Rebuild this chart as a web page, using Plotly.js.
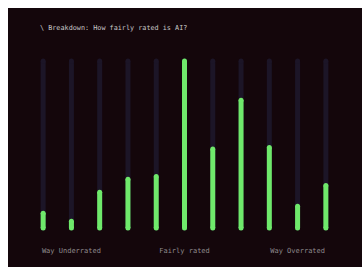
<!DOCTYPE html>
<html>
<head>
<meta charset="utf-8">
<script src="https://cdn.plot.ly/plotly-3.0.1.min.js"></script>
<style>
html,body{margin:0;padding:0;background:#fff;overflow:hidden;}
#chart{position:absolute;left:8px;top:8px;width:362px;height:267px;}
</style>
</head>
<body>
<div id="chart"></div>
<script>
// Share of respondents (%) per rating step, from "Way Underrated" to "Way Overrated"
const steps = [1,2,3,4,5,6,7,8,9,10,11];
const shares = [2.2, 1.0, 5.3, 7.2, 7.6, 24.7, 11.7, 18.9, 11.9, 3.2, 6.3];
const tickSteps = [2, 6, 10];
const tickLabels = ["Way Underrated", "Fairly rated", "Way Overrated"];
const titleText = "\\ Breakdown: How fairly rated is AI?";

const maxShare = Math.max(...shares);
const trackColor = "#1c1527";
const barColor = "#6fe96b";
const lw = 5;

function stems(vals, color) {
  const x = [], y = [];
  steps.forEach((s, i) => { x.push(s, s, null); y.push(0, vals[i], null); });
  return {
    type: "scatter", mode: "lines+markers", x: x, y: y,
    line: {color: color, width: lw},
    marker: {color: color, size: lw, line: {width: 0}},
    hoverinfo: "skip", showlegend: false, cliponaxis: false
  };
}

const traces = [
  stems(steps.map(() => maxShare), trackColor),
  stems(shares, barColor)
];

const layout = {
  width: 362, height: 267,
  paper_bgcolor: "#14060b", plot_bgcolor: "#14060b",
  margin: {l: 21, r: 30, t: 53, b: 46.5},
  title: {
    text: titleText, x: 32/362, xanchor: "left", xref: "container",
    y: 1 - 20/267, yanchor: "middle", yref: "container",
    font: {family: "DejaVu Sans Mono", size: 6.8, color: "#c9c6c8"}
  },
  xaxis: {
    range: [0.5, 11.5], showgrid: false, zeroline: false, showline: false,
    tickvals: tickSteps, ticktext: tickLabels, ticks: "outside", ticklen: 16,
    tickcolor: "rgba(0,0,0,0)", fixedrange: true,
    tickfont: {family: "DejaVu Sans Mono", size: 7, color: "#8e8a8c"}
  },
  yaxis: {
    range: [0, maxShare], showgrid: false, zeroline: false, showline: false,
    showticklabels: false, fixedrange: true
  }
};

Plotly.newPlot("chart", traces, layout, {displayModeBar: false, staticPlot: true});
</script>
</body>
</html>
